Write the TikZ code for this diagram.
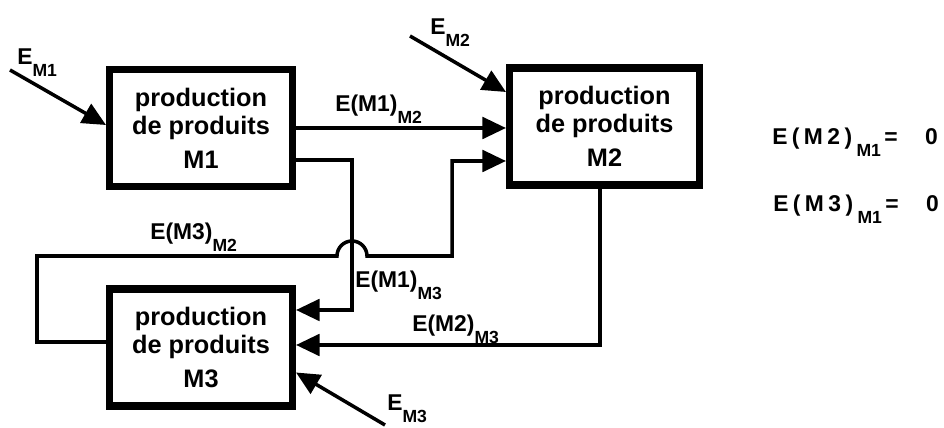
\documentclass[tikz,border=0pt]{standalone}
\usepackage{fontspec}
\setmainfont{Liberation Sans}
\usetikzlibrary{arrows.meta}
\newcommand{\idxm}[1]{\raisebox{-6.8pt}{\fontsize{10}{11}\selectfont #1}}

\begin{document}
\begin{tikzpicture}[x=0.2cm,y=0.2cm,
  box/.style={draw,line width=4pt,minimum width=3.66cm,minimum height=2.34cm,inner sep=0pt,align=center,font=\fontsize{14.4}{16}\selectfont\bfseries},
  conn/.style={line width=2pt,-{Triangle[length=0.47cm,width=0.43cm]}},
  lbl/.style={inner sep=0pt,anchor=base west,font=\fontsize{13}{15}\selectfont\bfseries}]
\useasboundingbox (0,0) rectangle (94.4,42.8);
% the three production units
\node[box] (m1) at (20.1,30.0) {production\\de produits\\[3.4pt]M1};
\node[box,minimum width=3.8cm] (m2) at (60.45,30.15) {production\\de produits\\[3.4pt]M2};
\node[box] (m3) at (20.1,8.05) {production\\de produits\\[3.4pt]M3};
% free ends and bends
\coordinate (em1) at (1.0,35.8); \coordinate (em2) at (41.0,39.2); \coordinate (em3) at (38.5,0.3);
\coordinate (c13) at (35.2,11.8);
\coordinate (l3) at (3.7,17.2); \coordinate (hop) at (35.2,17.2); \coordinate (r3) at (45.2,17.2);
% external inputs
\draw[conn] (em1) -- ([yshift=0.06cm]m1.west);
\draw[conn] (em2) -- ([yshift=0.69cm]m2.west);
\draw[conn] (em3) -- ([yshift=-0.5cm]m3.east);
% exchanges between units
\draw[conn] (m1.east) -- (m1.east -| m2.west);
\draw[conn] ([yshift=-0.64cm]m1.east) -| (c13) -- (c13 -| m3.east);
\draw[conn] ([xshift=-0.09cm]m2.south) |- ([yshift=0.05cm]m3.east);
\draw[conn] ([yshift=0.11cm]m3.west) -| (l3) -- ([xshift=-0.3cm]hop)
  arc[start angle=180,end angle=0,radius=0.3cm] -- (r3) |- ([yshift=-0.69cm]m2.west);
% labels
\node[lbl] (lm1) at (1.7,36.3) {E\idxm{M1}};
\node[lbl] (lm2) at (43.0,39.3) {E\idxm{M2}};
\node[lbl] (lm3) at (38.7,1.7) {E\idxm{M3}};
\node[lbl] (l12) at (33.5,31.6) {E(M1)\idxm{M2}};
\node[lbl] (l32) at (15.0,18.8) {E(M3)\idxm{M2}};
\node[lbl] (l13) at (35.5,14.0) {E(M1)\idxm{M3}};
\node[lbl] (l23) at (41.2,9.6) {E(M2)\idxm{M3}};
\node[lbl] (eq1) at (77.2,28.3) {E\kern2.5pt(\kern2.5pt M\kern2.5pt 2\kern2.5pt)\kern2.5pt\idxm{M1}\kern2pt=\hspace{15.5pt}0};
\node[lbl] (eq2) at (77.3,21.6) {E\kern2.5pt(\kern2.5pt M\kern2.5pt 3\kern2.5pt)\kern2.5pt\idxm{M1}\kern2pt=\hspace{15.5pt}0};
\end{tikzpicture}
\end{document}
